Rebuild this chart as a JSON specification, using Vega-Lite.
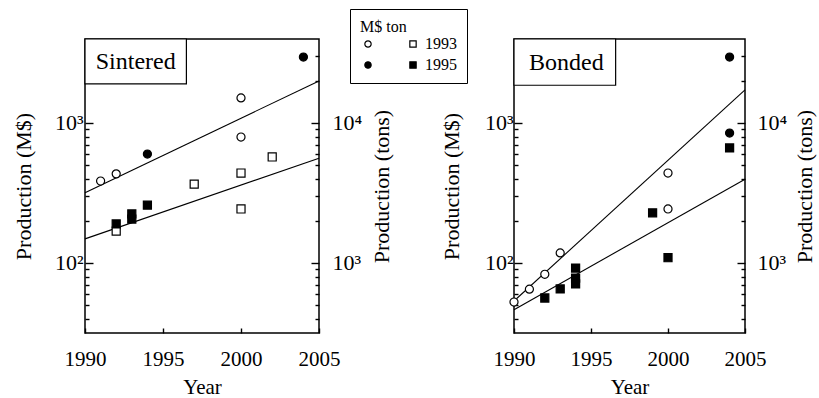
{
  "$schema": "https://vega.github.io/schema/vega-lite/v6.json",
  "padding": {"left": 11, "top": 8, "right": 0, "bottom": 0},
  "spacing": 45,
  "data": {"values": [
    {"panel":"Sintered","kind":"obs","unit":"M$","key":"M$ 1993","year":1991,"value":385},
    {"panel":"Sintered","kind":"obs","unit":"M$","key":"M$ 1993","year":1992,"value":433},
    {"panel":"Sintered","kind":"obs","unit":"M$","key":"M$ 1993","year":2000,"value":1510},
    {"panel":"Sintered","kind":"obs","unit":"M$","key":"M$ 1993","year":2000,"value":794},
    {"panel":"Sintered","kind":"obs","unit":"M$","key":"M$ 1995","year":1994,"value":600},
    {"panel":"Sintered","kind":"obs","unit":"M$","key":"M$ 1995","year":2004,"value":2960},
    {"panel":"Sintered","kind":"obs","unit":"ton","key":"ton 1993","year":1992,"value":1690},
    {"panel":"Sintered","kind":"obs","unit":"ton","key":"ton 1993","year":1997,"value":3660},
    {"panel":"Sintered","kind":"obs","unit":"ton","key":"ton 1993","year":2000,"value":4390},
    {"panel":"Sintered","kind":"obs","unit":"ton","key":"ton 1993","year":2000,"value":2430},
    {"panel":"Sintered","kind":"obs","unit":"ton","key":"ton 1993","year":2002,"value":5720},
    {"panel":"Sintered","kind":"obs","unit":"ton","key":"ton 1995","year":1992,"value":1900},
    {"panel":"Sintered","kind":"obs","unit":"ton","key":"ton 1995","year":1993,"value":2240},
    {"panel":"Sintered","kind":"obs","unit":"ton","key":"ton 1995","year":1993,"value":2060},
    {"panel":"Sintered","kind":"obs","unit":"ton","key":"ton 1995","year":1994,"value":2590},
    {"panel":"Sintered","kind":"fit","unit":"M$","year":1990,"value":318},
    {"panel":"Sintered","kind":"fit","unit":"M$","year":2005,"value":1995},
    {"panel":"Sintered","kind":"fit","unit":"ton","year":1990,"value":1486},
    {"panel":"Sintered","kind":"fit","unit":"ton","year":2005,"value":5600},
    {"panel":"Bonded","kind":"obs","unit":"M$","key":"M$ 1993","year":1990,"value":52.6},
    {"panel":"Bonded","kind":"obs","unit":"M$","key":"M$ 1993","year":1991,"value":65},
    {"panel":"Bonded","kind":"obs","unit":"M$","key":"M$ 1993","year":1992,"value":83},
    {"panel":"Bonded","kind":"obs","unit":"M$","key":"M$ 1993","year":1993,"value":118},
    {"panel":"Bonded","kind":"obs","unit":"M$","key":"M$ 1993","year":2000,"value":439},
    {"panel":"Bonded","kind":"obs","unit":"M$","key":"M$ 1993","year":2000,"value":243},
    {"panel":"Bonded","kind":"obs","unit":"M$","key":"M$ 1995","year":2004,"value":2960},
    {"panel":"Bonded","kind":"obs","unit":"M$","key":"M$ 1995","year":2004,"value":848},
    {"panel":"Bonded","kind":"obs","unit":"ton","key":"ton 1995","year":1992,"value":562},
    {"panel":"Bonded","kind":"obs","unit":"ton","key":"ton 1995","year":1993,"value":652},
    {"panel":"Bonded","kind":"obs","unit":"ton","key":"ton 1995","year":1994,"value":920},
    {"panel":"Bonded","kind":"obs","unit":"ton","key":"ton 1995","year":1994,"value":780},
    {"panel":"Bonded","kind":"obs","unit":"ton","key":"ton 1995","year":1994,"value":708},
    {"panel":"Bonded","kind":"obs","unit":"ton","key":"ton 1995","year":1999,"value":2280},
    {"panel":"Bonded","kind":"obs","unit":"ton","key":"ton 1995","year":2000,"value":1090},
    {"panel":"Bonded","kind":"obs","unit":"ton","key":"ton 1995","year":2004,"value":6630},
    {"panel":"Bonded","kind":"fit","unit":"M$","year":1990,"value":53.5},
    {"panel":"Bonded","kind":"fit","unit":"M$","year":2005,"value":1722},
    {"panel":"Bonded","kind":"fit","unit":"ton","year":1990,"value":464},
    {"panel":"Bonded","kind":"fit","unit":"ton","year":2005,"value":3960}
  ]},
  "config": {
    "font": "Liberation Serif",
    "view": {"stroke": "black", "strokeWidth": 1.5},
    "axis": {
      "labelFont": "Liberation Serif", "titleFont": "Liberation Serif",
      "labelColor": "black", "titleColor": "black", "ticks": true, "tickColor": "black", "tickWidth": 1.4, "tickOpacity": 1, "zindex": 1,
      "domain": false, "grid": false, "labelFontSize": 22, "titleFontSize": 22,
      "titleFontWeight": "normal", "labelOverlap": false, "labelFlush": false, "labelBound": false
    },
    "legend": {
      "orient": "none", "legendX": 265, "legendY": -30, "columns": 2,
      "titleFontSize": 16, "titleFontWeight": "normal", "titleFont": "Liberation Serif", "titleColor": "black", "titlePadding": 1,
      "labelFont": "Liberation Serif", "labelFontSize": 16, "labelColor": "black",
      "strokeColor": "black", "padding": 10, "symbolSize": 40, "symbolStrokeWidth": 1.2,
      "columnPadding": 25, "rowPadding": 5, "labelOffset": 4
    }
  },
  "hconcat": [
    {
      "width": 234, "height": 294,
      "layer": [
        {
          "data": {"values": [{"label": "Sintered"}]},
          "layer": [
            {"mark": {"type": "rect", "fill": "white", "stroke": "black", "strokeWidth": 1.2},
             "encoding": {
               "x": {"datum": 1990, "type": "quantitative", "scale": {"domain": [1990, 2005], "zero": false, "nice": false}},
               "x2": {"datum": 1996.5},
               "y": {"datum": 3981, "type": "quantitative", "scale": {"type": "log", "domain": [31.6, 3981]}, "axis": null},
               "y2": {"datum": 1900}}},
            {"mark": {"type": "text", "fontSize": 24, "font": "Liberation Serif", "color": "black"},
             "encoding": {
               "x": {"datum": 1993.25, "type": "quantitative", "scale": {"domain": [1990, 2005], "zero": false, "nice": false}},
               "y": {"datum": 2730, "type": "quantitative", "scale": {"type": "log", "domain": [31.6, 3981]}, "axis": null},
               "text": {"field": "label"}}}
          ]
        },
        {
          "transform": [{"filter": "datum.panel == 'Sintered' && datum.unit == 'M$' && datum.kind == 'fit'"}],
          "mark": {"type": "line", "color": "black", "strokeWidth": 1.1},
          "encoding": {
            "x": {"field": "year", "type": "quantitative", "scale": {"domain": [1990, 2005], "zero": false, "nice": false},
                  "axis": {"title": "Year", "titleFontSize": 21, "labelFontSize": 21, "values": [1990, 1995, 2000, 2005], "format": "d", "tickSize": 5, "offset": -5, "labelPadding": 15, "titlePadding": 7}},
            "y": {"field": "value", "type": "quantitative", "scale": {"type": "log", "domain": [31.6, 3981]},
                  "axis": {"orient": "left", "title": null, "labels": false, "tickSize": 4, "offset": -4,
                           "values": [40,50,60,70,80,90,200,300,400,500,600,700,800,900,2000,3000]}}
          }
        },
        {
          "transform": [{"filter": "datum.panel == 'Sintered' && datum.unit == 'M$' && datum.kind == 'obs'"}],
          "mark": {"type": "point", "filled": true, "strokeWidth": 1.2, "size": 65, "opacity": 1},
          "encoding": {
            "x": {"field": "year", "type": "quantitative", "scale": {"domain": [1990, 2005], "zero": false, "nice": false}},
            "y": {"field": "value", "type": "quantitative", "scale": {"type": "log", "domain": [31.6, 3981]},
                  "axis": {"orient": "left", "title": "Production (M$)", "values": [100, 1000],
                           "labelExpr": "datum.value == 100 ? '10²' : '10³'",
                           "tickSize": 8, "offset": -8, "labelPadding": 2, "titlePadding": 19}},
            "shape": {"field": "key", "type": "nominal", "scale": {"domain": ["M$ 1993", "M$ 1995", "ton 1993", "ton 1995"], "range": ["circle", "circle", "square", "square"]},
                      "legend": {"title": "M$   ton", "labelExpr": "indexof(datum.label, 'ton') == 0 ? slice(datum.label, 4) : ''"}},
            "fill": {"field": "key", "type": "nominal", "scale": {"domain": ["M$ 1993", "M$ 1995", "ton 1993", "ton 1995"], "range": ["white", "black", "white", "black"]},
                     "legend": {"title": "M$   ton", "labelExpr": "indexof(datum.label, 'ton') == 0 ? slice(datum.label, 4) : ''"}},
            "stroke": {"field": "key", "type": "nominal", "scale": {"domain": ["M$ 1993", "M$ 1995", "ton 1993", "ton 1995"], "range": ["black", "black", "black", "black"]},
                       "legend": {"title": "M$   ton", "labelExpr": "indexof(datum.label, 'ton') == 0 ? slice(datum.label, 4) : ''"}}
          }
        },
        {
          "transform": [{"filter": "datum.panel == 'Sintered' && datum.unit == 'ton' && datum.kind == 'fit'"}],
          "mark": {"type": "line", "color": "black", "strokeWidth": 1.1},
          "encoding": {
            "x": {"field": "year", "type": "quantitative", "scale": {"domain": [1990, 2005], "zero": false, "nice": false}},
            "y": {"field": "value", "type": "quantitative", "scale": {"type": "log", "domain": [316, 39810]},
                  "axis": {"orient": "right", "title": null, "labels": false, "tickSize": 4, "offset": -4,
                           "values": [400,500,600,700,800,900,2000,3000,4000,5000,6000,7000,8000,9000,20000,30000]}}
          }
        },
        {
          "transform": [{"filter": "datum.panel == 'Sintered' && datum.unit == 'ton' && datum.kind == 'obs'"}],
          "mark": {"type": "point", "filled": true, "strokeWidth": 1.2, "size": 65, "opacity": 1},
          "encoding": {
            "x": {"field": "year", "type": "quantitative", "scale": {"domain": [1990, 2005], "zero": false, "nice": false}},
            "y": {"field": "value", "type": "quantitative", "scale": {"type": "log", "domain": [316, 39810]},
                  "axis": {"orient": "right", "title": "Production (tons)", "titleAngle": 270, "titleBaseline": "top", "values": [1000, 10000],
                           "labelExpr": "datum.value == 1000 ? '10³' : '10⁴'",
                           "tickSize": 8, "offset": -8, "labelPadding": 13, "titlePadding": 10}},
            "shape": {"field": "key", "type": "nominal", "scale": {"domain": ["M$ 1993", "M$ 1995", "ton 1993", "ton 1995"], "range": ["circle", "circle", "square", "square"]}},
            "fill": {"field": "key", "type": "nominal", "scale": {"domain": ["M$ 1993", "M$ 1995", "ton 1993", "ton 1995"], "range": ["white", "black", "white", "black"]}},
            "stroke": {"field": "key", "type": "nominal", "scale": {"domain": ["M$ 1993", "M$ 1995", "ton 1993", "ton 1995"], "range": ["black", "black", "black", "black"]}}
          }
        }
      ],
      "resolve": {"scale": {"y": "independent"}}
    },
    {
      "width": 231, "height": 294,
      "layer": [
        {
          "data": {"values": [{"label": "Bonded"}]},
          "layer": [
            {"mark": {"type": "rect", "fill": "white", "stroke": "black", "strokeWidth": 1.2},
             "encoding": {
               "x": {"datum": 1990, "type": "quantitative", "scale": {"domain": [1990, 2005], "zero": false, "nice": false}},
               "x2": {"datum": 1996.6},
               "y": {"datum": 3981, "type": "quantitative", "scale": {"type": "log", "domain": [31.6, 3981]}, "axis": null},
               "y2": {"datum": 1860}}},
            {"mark": {"type": "text", "fontSize": 24, "font": "Liberation Serif", "color": "black"},
             "encoding": {
               "x": {"datum": 1993.4, "type": "quantitative", "scale": {"domain": [1990, 2005], "zero": false, "nice": false}},
               "y": {"datum": 2690, "type": "quantitative", "scale": {"type": "log", "domain": [31.6, 3981]}, "axis": null},
               "text": {"field": "label"}}}
          ]
        },
        {
          "transform": [{"filter": "datum.panel == 'Bonded' && datum.unit == 'M$' && datum.kind == 'fit'"}],
          "mark": {"type": "line", "color": "black", "strokeWidth": 1.1},
          "encoding": {
            "x": {"field": "year", "type": "quantitative", "scale": {"domain": [1990, 2005], "zero": false, "nice": false},
                  "axis": {"title": "Year", "titleFontSize": 21, "labelFontSize": 21, "values": [1990, 1995, 2000, 2005], "format": "d", "tickSize": 5, "offset": -5, "labelPadding": 15, "titlePadding": 7}},
            "y": {"field": "value", "type": "quantitative", "scale": {"type": "log", "domain": [31.6, 3981]},
                  "axis": {"orient": "left", "title": null, "labels": false, "tickSize": 4, "offset": -4,
                           "values": [40,50,60,70,80,90,200,300,400,500,600,700,800,900,2000,3000]}}
          }
        },
        {
          "transform": [{"filter": "datum.panel == 'Bonded' && datum.unit == 'M$' && datum.kind == 'obs'"}],
          "mark": {"type": "point", "filled": true, "strokeWidth": 1.2, "size": 65, "opacity": 1},
          "encoding": {
            "x": {"field": "year", "type": "quantitative", "scale": {"domain": [1990, 2005], "zero": false, "nice": false}},
            "y": {"field": "value", "type": "quantitative", "scale": {"type": "log", "domain": [31.6, 3981]},
                  "axis": {"orient": "left", "title": "Production (M$)", "values": [100, 1000],
                           "labelExpr": "datum.value == 100 ? '10²' : '10³'",
                           "tickSize": 8, "offset": -8, "labelPadding": 1, "titlePadding": 21}},
            "shape": {"field": "key", "type": "nominal", "scale": {"domain": ["M$ 1993", "M$ 1995", "ton 1993", "ton 1995"], "range": ["circle", "circle", "square", "square"]}},
            "fill": {"field": "key", "type": "nominal", "scale": {"domain": ["M$ 1993", "M$ 1995", "ton 1993", "ton 1995"], "range": ["white", "black", "white", "black"]}},
            "stroke": {"field": "key", "type": "nominal", "scale": {"domain": ["M$ 1993", "M$ 1995", "ton 1993", "ton 1995"], "range": ["black", "black", "black", "black"]}}
          }
        },
        {
          "transform": [{"filter": "datum.panel == 'Bonded' && datum.unit == 'ton' && datum.kind == 'fit'"}],
          "mark": {"type": "line", "color": "black", "strokeWidth": 1.1},
          "encoding": {
            "x": {"field": "year", "type": "quantitative", "scale": {"domain": [1990, 2005], "zero": false, "nice": false}},
            "y": {"field": "value", "type": "quantitative", "scale": {"type": "log", "domain": [316, 39810]},
                  "axis": {"orient": "right", "title": null, "labels": false, "tickSize": 4, "offset": -4,
                           "values": [400,500,600,700,800,900,2000,3000,4000,5000,6000,7000,8000,9000,20000,30000]}}
          }
        },
        {
          "transform": [{"filter": "datum.panel == 'Bonded' && datum.unit == 'ton' && datum.kind == 'obs'"}],
          "mark": {"type": "point", "filled": true, "strokeWidth": 1.2, "size": 65, "opacity": 1},
          "encoding": {
            "x": {"field": "year", "type": "quantitative", "scale": {"domain": [1990, 2005], "zero": false, "nice": false}},
            "y": {"field": "value", "type": "quantitative", "scale": {"type": "log", "domain": [316, 39810]},
                  "axis": {"orient": "right", "title": "Production (tons)", "titleAngle": 270, "titleBaseline": "top", "values": [1000, 10000],
                           "labelExpr": "datum.value == 1000 ? '10³' : '10⁴'",
                           "tickSize": 8, "offset": -8, "labelPadding": 12, "titlePadding": 8}},
            "shape": {"field": "key", "type": "nominal", "scale": {"domain": ["M$ 1993", "M$ 1995", "ton 1993", "ton 1995"], "range": ["circle", "circle", "square", "square"]}},
            "fill": {"field": "key", "type": "nominal", "scale": {"domain": ["M$ 1993", "M$ 1995", "ton 1993", "ton 1995"], "range": ["white", "black", "white", "black"]}},
            "stroke": {"field": "key", "type": "nominal", "scale": {"domain": ["M$ 1993", "M$ 1995", "ton 1993", "ton 1995"], "range": ["black", "black", "black", "black"]}}
          }
        }
      ],
      "resolve": {"scale": {"y": "independent"}}
    }
  ]
}
